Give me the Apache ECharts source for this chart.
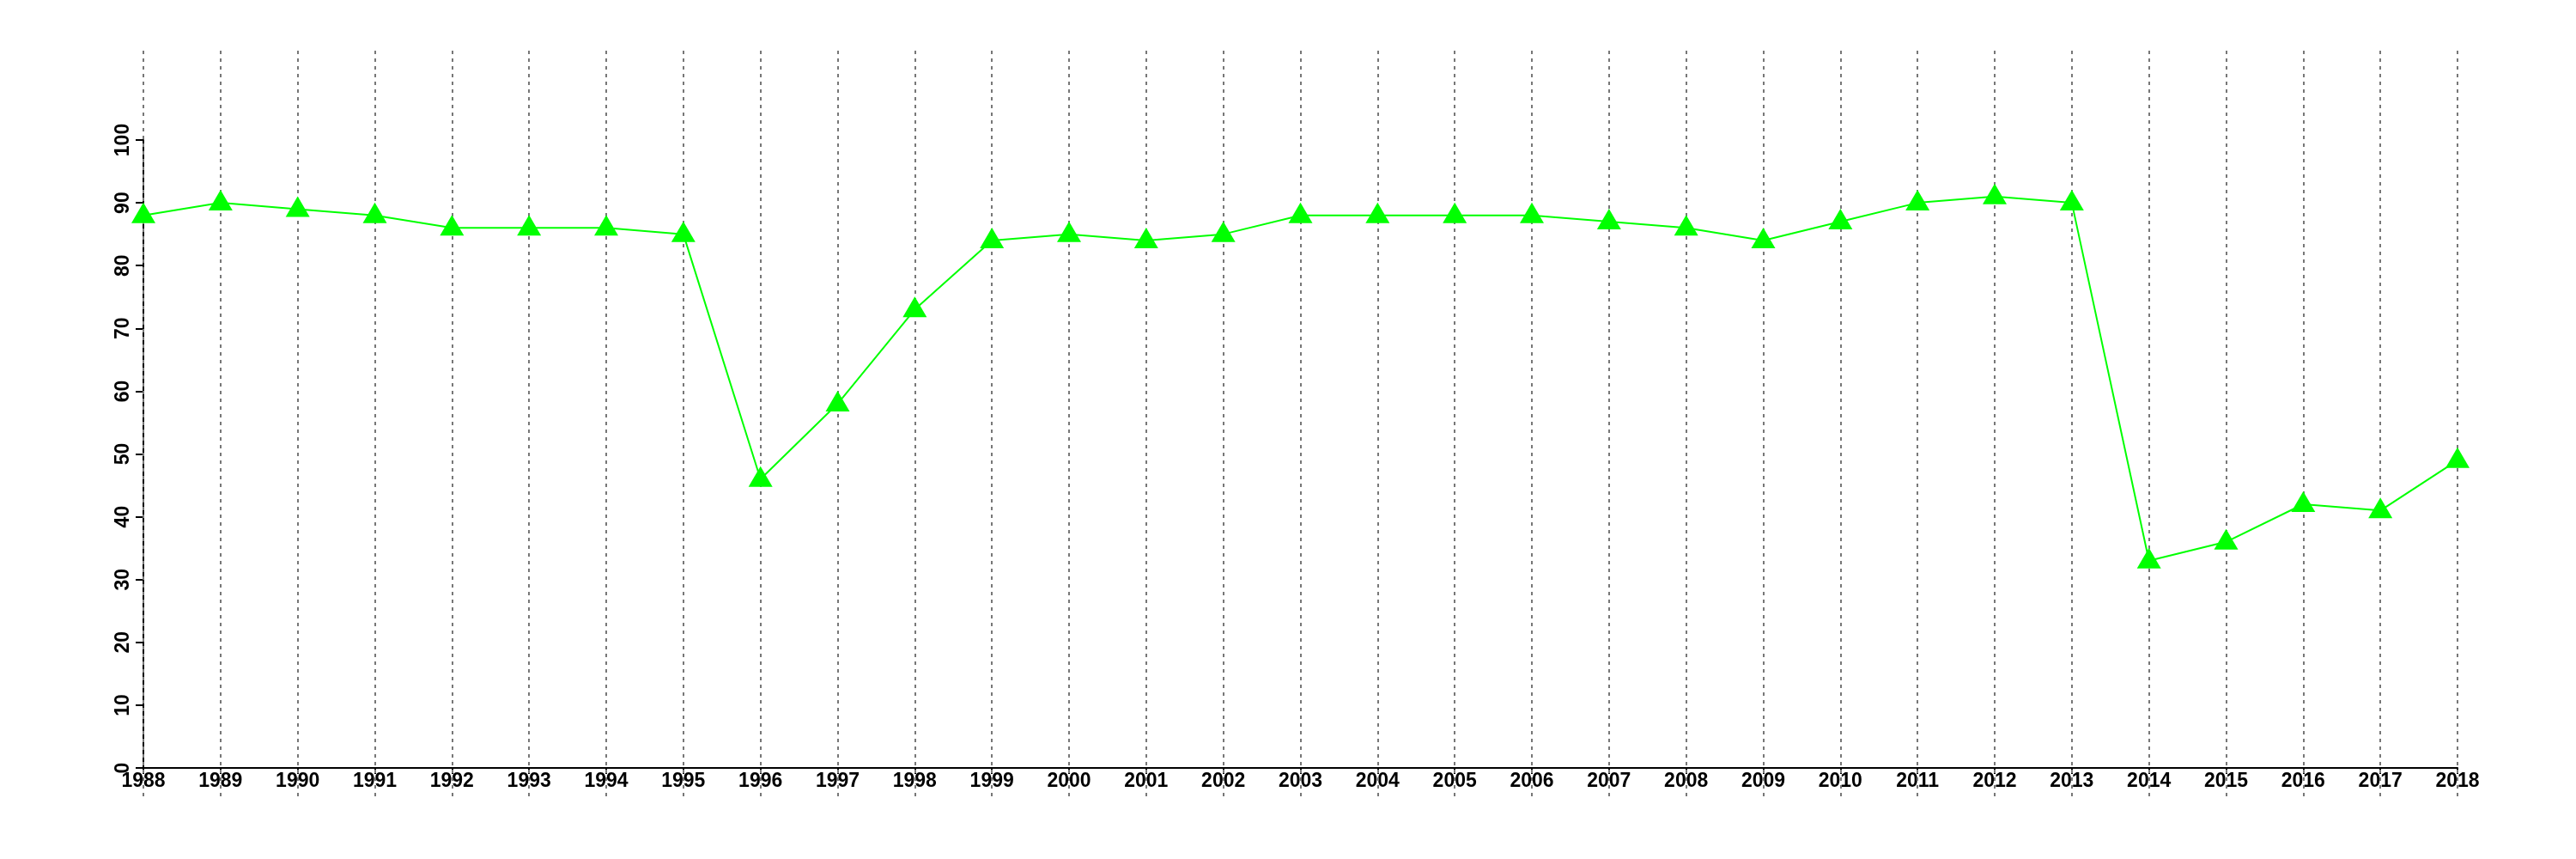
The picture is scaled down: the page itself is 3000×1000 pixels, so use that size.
<!DOCTYPE html>
<html>
<head>
<meta charset="utf-8">
<script src="https://cdn.jsdelivr.net/npm/echarts@6/dist/echarts.min.js"></script>
<style>html,body{margin:0;padding:0;background:#fff;}#c{width:3000px;height:1000px;}</style>
</head>
<body>
<div id="c"></div>
<script>
var years = ['1988','1989','1990','1991','1992','1993','1994','1995','1996','1997','1998','1999','2000','2001','2002','2003','2004','2005','2006','2007','2008','2009','2010','2011','2012','2013','2014','2015','2016','2017','2018'];
var values = [88,90,89,88,86,86,86,85,46,58,73,84,85,84,85,88,88,88,88,87,86,84,87,90,91,90,33,36,42,41,49];
var yMin = 0, yMax = 100, yStep = 10;

var font = {fontFamily: 'Liberation Sans', fontWeight: 'bold', fontSize: 23, color: '#000'};
var chart = echarts.init(document.getElementById('c'));
chart.setOption({
  animation: false,
  backgroundColor: '#fff',
  grid: [
    {left: 167, right: 138, top: 59, bottom: 73},
    {left: 167, right: 138, top: 163, bottom: 106}
  ],
  xAxis: [
    {gridIndex: 0, type: 'category', data: years, boundaryGap: false, z: 5,
     axisLine: {show: false}, axisTick: {show: false}, axisLabel: {show: false},
     splitLine: {show: true, interval: 0, lineStyle: {color: '#777', width: 2, type: [4, 5]}}},
    {gridIndex: 1, type: 'category', data: years, boundaryGap: false,
     axisLine: {show: true, onZero: false, lineStyle: {color: '#000', width: 2}},
     axisTick: {show: true, interval: 0, length: 7, lineStyle: {color: '#000', width: 2}},
     axisLabel: Object.assign({interval: 0, margin: 4}, font),
     splitLine: {show: false}}
  ],
  yAxis: [
    {gridIndex: 0, type: 'value', show: false, min: 0, max: 1, splitLine: {show: false}},
    {gridIndex: 1, type: 'value', min: yMin, max: yMax, interval: yStep,
     axisLine: {show: true, lineStyle: {color: '#000', width: 2}},
     axisTick: {show: true, length: 9, lineStyle: {color: '#000', width: 2}},
     axisLabel: Object.assign({rotate: 90, margin: 12}, font),
     splitLine: {show: false}}
  ],
  series: [{
    type: 'line', xAxisIndex: 1, yAxisIndex: 1, data: values,
    lineStyle: {color: '#00ff00', width: 2},
    itemStyle: {color: '#00ff00'},
    symbol: 'triangle', symbolSize: [28, 24], symbolOffset: [0, -3],
    z: 10
  }]
});
</script>
</body>
</html>
